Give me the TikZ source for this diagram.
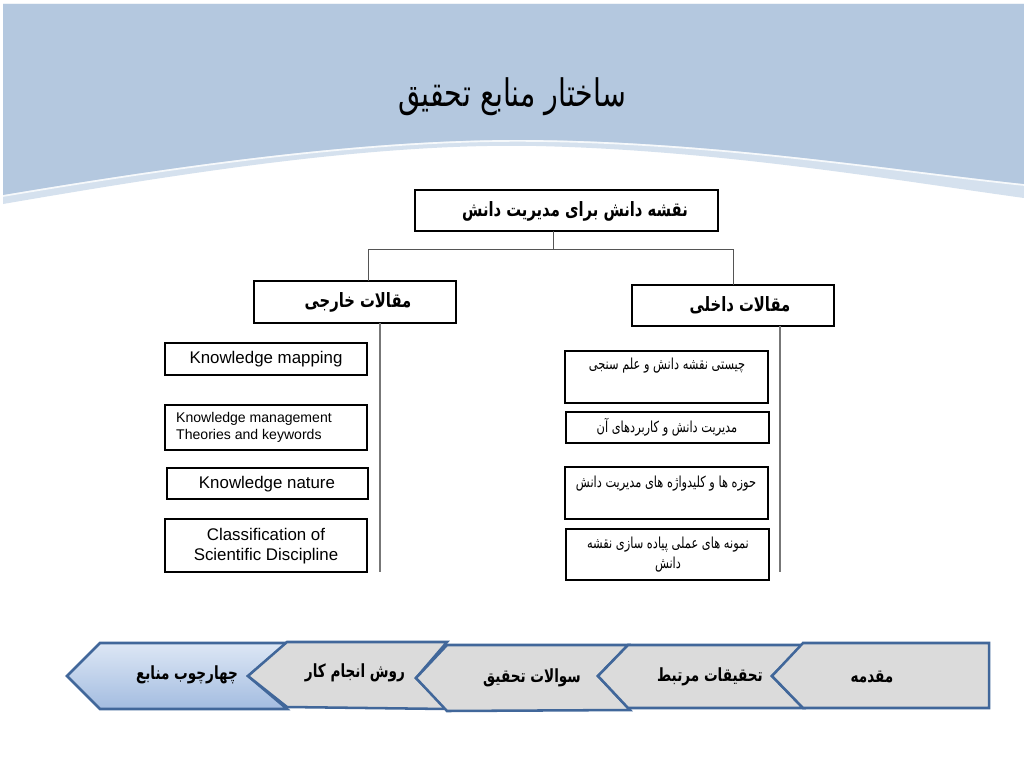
\documentclass[tikz,border=0pt]{standalone}
\usepackage{fontspec}
\setmainfont{Liberation Sans}
\newfontfamily\arabicfont[Script=Arabic, FakeStretch=0.75]{DejaVu Sans}
\TeXXeTstate=1
\newcommand\prs[1]{{\arabicfont\beginR #1\endR}}
\definecolor{banner}{HTML}{B4C8DF}
\definecolor{bannerpale}{HTML}{D5E1EE}
\definecolor{chevline}{HTML}{41679A}
\definecolor{chevgrey}{HTML}{DBDBDB}
\definecolor{chevtop}{HTML}{DDE7F5}
\definecolor{chevbot}{HTML}{A3BCE0}
\definecolor{conn}{HTML}{555555}
\tikzset{
  wh/.style 2 args={minimum width=#1*0.025cm, minimum height=#2*0.025cm},
  box/.style={draw=black, line width=1.4pt, inner sep=0pt, outer sep=0pt, fill=white},
  txt/.style={inner sep=0pt, outer sep=0pt},
  hdrtxt/.style={txt, font=\bfseries\fontsize{14}{17}\selectfont},
  entxt/.style={txt, font=\fontsize{12}{14.2}\selectfont, align=center},
  fatxt/.style={txt, font=\fontsize{10.8}{14.2}\selectfont, align=center},
  chevtxt/.style={txt, font=\bfseries\fontsize{12.9}{15}\selectfont},
  chev/.style={draw=chevline, line width=1.8pt, line join=miter, fill=chevgrey},
  conline/.style={draw=conn, line width=0.7pt},
  stemline/.style={draw=conn!80, line width=1pt},
}
\begin{document}
\begin{tikzpicture}[x=0.025cm, y=-0.025cm]
\useasboundingbox (0,0) rectangle (1024,768);
\fill[white] (0,0) rectangle (1024,768);
% banner
\fill[bannerpale] (3,4) -- (1024,4) -- (1024,198) .. controls (900,181) and (720,150) .. (536,146) .. controls (380,143) and (200,170) .. (3,204) -- cycle;
\fill[banner] (3,4) -- (1024,4) -- (1024,184) .. controls (900,171) and (720,142) .. (536,140) .. controls (380,138) and (200,162) .. (3,195) -- cycle;
\draw[white, line width=1.2pt, opacity=0.8] (1024,185) .. controls (900,172) and (720,143) .. (536,141) .. controls (380,139) and (200,163) .. (3,196);
\node[txt, font=\fontsize{27}{31}\selectfont] (title) at (512,97) {\prs{ساختار منابع تحقیق}};

% top box and headers
\node[box, wh={303}{41}] (top) at (566.5,210.5) {};
\node[hdrtxt] (toptxt) at (575,211) {\prs{نقشه دانش برای مدیریت دانش}};
\node[box, wh={202}{42}] (lh) at (355,302) {};
\node[hdrtxt] (lhtxt) at (358,302) {\prs{مقالات خارجی}};
\node[box, wh={202}{41}] (rh) at (733,305.5) {};
\node[hdrtxt] (rhtxt) at (740,305) {\prs{مقالات داخلی}};

\coordinate (hub) at (553,249);
\coordinate (hl) at (368,249);
\coordinate (hr) at (733,249);
\draw[conline] (hub |- top.south) -- (hub);
\draw[conline] (hl |- lh.north) -- (hl) -- (hr) -- (hr |- rh.north);
\coordinate (lend) at (380,572);
\coordinate (rend) at (780,572);
\draw[stemline] (lend |- lh.south) -- (lend);
\draw[stemline] (rend |- rh.south) -- (rend);

% left boxes
\node[box, wh={202}{32}] (l1) at (266,359) {};
\node[entxt] (l1t) at (266,359) {Knowledge mapping};
\node[box, wh={202}{45}] (l2) at (266,427.5) {};
\node[entxt, font=\fontsize{10}{12}\selectfont, align=left] (l2t) at (254,427.5) {Knowledge management\\Theories and keywords};
\node[box, wh={201}{31}] (l3) at (267.5,483.5) {};
\node[entxt] (l3t) at (267,484) {Knowledge nature};
\node[box, wh={202}{53}] (l4) at (266,545.5) {};
\node[entxt] (l4t) at (266,546) {Classification of\\Scientific Discipline};

% right boxes
\node[box, wh={203}{52}] (r1) at (666.5,377) {};
\node[fatxt] (r1t) at (667,366) {\prs{چیستی نقشه دانش و علم سنجی}};
\node[box, wh={203}{31}] (r2) at (667.5,427.5) {};
\node[fatxt] (r2t) at (667,427) {\prs{مدیریت دانش و کاربردهای آن}};
\node[box, wh={203}{52}] (r3) at (666.5,493) {};
\node[fatxt] (r3t) at (666,484) {\prs{حوزه ها و کلیدواژه های مدیریت دانش}};
\node[box, wh={203}{51}] (r4) at (667.5,554.5) {};
\node[fatxt] (r4t) at (668,555) {\prs{نمونه های عملی پیاده سازی نقشه}\\\prs{دانش}};

% chevrons
\path[chev, top color=chevtop, bottom color=chevbot] (67,676) -- (100,643) -- (287,643) -- (248,676) -- (287,709) -- (100,709) -- cycle;
\path[chev] (248,676) -- (287,642) -- (447,642) -- (416,678) -- (447,709) -- (287,707) -- cycle;
\path[chev] (416,678) -- (447,645) -- (628,645) -- (598,676) -- (630,710) -- (447,711) -- cycle;
\path[chev] (598,676) -- (628,645) -- (803,645) -- (772,676) -- (803,708) -- (628,708) -- cycle;
\path[chev] (772,676) -- (803,643) -- (989,643) -- (989,708) -- (803,708) -- cycle;
\node[chevtxt] (c1) at (187,675) {\prs{چهارچوب منابع}};
\node[chevtxt] (c2) at (355,673) {\prs{روش انجام کار}};
\node[chevtxt] (c3) at (532,678) {\prs{سوالات تحقیق}};
\node[chevtxt] (c4) at (710,677) {\prs{تحقیقات مرتبط}};
\node[chevtxt] (c5) at (872,677) {\prs{مقدمه}};
\end{tikzpicture}
\end{document}
